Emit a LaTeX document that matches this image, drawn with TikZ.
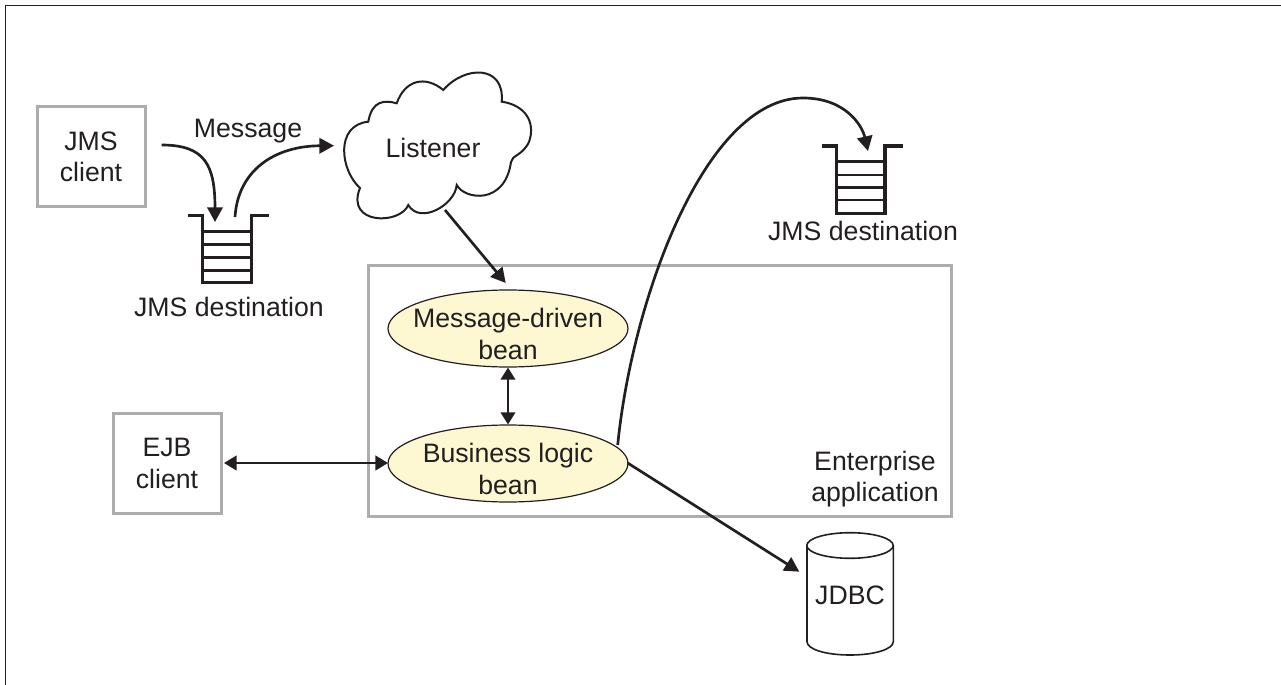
\documentclass[tikz,border=0pt]{standalone}
\usepackage{fontspec}
\setmainfont{Liberation Sans}
\usetikzlibrary{arrows.meta,shapes.geometric}
\definecolor{ink}{HTML}{231F20}
\definecolor{graybox}{HTML}{ABADB0}
\definecolor{beanfill}{HTML}{FDF8D2}
\tikzset{
  x=0.75pt,y=-0.75pt,
  every node/.style={text=ink,font=\fontsize{20}{23.5}\selectfont,align=center,inner sep=0pt},
  graybx/.style={draw=graybox,line width=2.25pt,rectangle,minimum width=81pt,minimum height=75pt},
  bean/.style={ellipse,draw=ink,line width=0.9pt,fill=beanfill,minimum width=180pt,minimum height=57.75pt},
  conn/.style={draw=ink,line width=2pt,-{Triangle[length=11pt,width=11.5pt]}},
  thinboth/.style={draw=ink,line width=1.2pt,{Triangle[length=9pt,width=11pt]}-{Triangle[length=9pt,width=11pt]}},
  boldboth/.style={draw=ink,line width=1.8pt,{Triangle[length=9.5pt,width=11pt]}-{Triangle[length=9.5pt,width=11pt]}},
  qwall/.style={draw=ink,line width=2.4pt,line join=miter},
  qrung/.style={draw=ink,line width=2pt},
  cyl/.style={draw=ink,line width=1.2pt},
}
\begin{document}
\begin{tikzpicture}
\useasboundingbox (0,0) rectangle (1281,685);
\draw[ink,line width=1.3pt] (5.5,690) -- (5.5,5.5) -- (1285,5.5);

% boxes
\node[graybx] (jms) at (91,156.5) {JMS\\client};
\node[graybx] (ejb) at (167,463.5) {EJB\\client};
\draw[graybox,line width=2.25pt] (368,265) rectangle (951,516);
\node (entapp) at (875,479) {Enterprise\\application};

% beans
\node[bean] (mdb) at (508,328.5) {};
\node at (508,334) {Message-driven\\bean};
\node[bean] (blb) at (508,463.5) {};
\node at (508,469) {Business logic\\bean};

% cloud
\draw[ink,line width=1.5pt,fill=white]
  (368.3,121.7) .. controls (372,100) and (385,100) .. (396.7,103.3)
  .. controls (405,80) and (425,75) .. (443.3,90)
  .. controls (465,65) and (505,65) .. (501.7,101.7)
  .. controls (525,105) and (536,122) .. (529,142)
  .. controls (522,156) and (512,155) .. (511,162)
  .. controls (505,205) and (465,200) .. (456.7,185)
  .. controls (455,205) and (420,225) .. (408.3,205)
  .. controls (400,225) and (345,225) .. (360,188)
  .. controls (340,170) and (335,125) .. (368.3,121.7) -- cycle;
\node (listener) at (433,148) {Listener};
\coordinate (cloudbase) at (445,210);
\coordinate (cloudin) at (334,145.7);

% left queue
\coordinate (q1a) at (188.3,215.7);
\coordinate (q1b) at (202.3,215.7);
\coordinate (q1c) at (202.3,282.7);
\coordinate (q1d) at (251.7,282.7);
\coordinate (q1e) at (251.7,215.7);
\coordinate (q1f) at (269.3,215.7);
\draw[qrung] (202.3,231.7) -- (251.7,231.7) (202.3,244.3) -- (251.7,244.3) (202.3,257.3) -- (251.7,257.3) (202.3,270.3) -- (251.7,270.3);
\draw[qwall] (q1a) -- (q1b) -- (q1c) -- (q1d) -- (q1e) -- (q1f);
\node (q1label) at (229,307) {JMS destination};
\coordinate (q1in) at (215,222);
\coordinate (q1out) at (235,217);

% right queue
\coordinate (q2a) at (821.7,146);
\coordinate (q2b) at (836.7,146);
\coordinate (q2c) at (836.7,213.3);
\coordinate (q2d) at (885,213.3);
\coordinate (q2e) at (885,146);
\coordinate (q2f) at (903.3,146);
\draw[qrung] (836.7,161.7) -- (885,161.7) (836.7,175) -- (885,175) (836.7,187.3) -- (885,187.3) (836.7,200) -- (885,200);
\draw[qwall] (q2a) -- (q2b) -- (q2c) -- (q2d) -- (q2e) -- (q2f);
\node (q2label) at (863,231) {JMS destination};
\coordinate (q2in) at (868,151);

% database
\draw[cyl,fill=white] (807,545.5) -- (807,641.7) .. controls (807,649) and (825,655) .. (850,655) .. controls (875,655) and (893.3,649) .. (893.3,641.7) -- (893.3,545.5);
\draw[cyl] (850,545.5) ellipse [x radius=43.2,y radius=12.8];
\node (jdbc) at (850,595) {JDBC};
\coordinate (jdbcin) at (799.3,571.7);

% connectors
\coordinate (jmsout) at (161.7,145);
\coordinate (mdbin) at (505.7,283);
\coordinate (blbtop) at (617.7,445);
\coordinate (blbright) at (627.7,463);
\coordinate (ejbout) at (224,463);
\coordinate (blbin) at (388,463);
\node (msg) at (248,131) {Message};
\draw[conn] (jmsout) .. controls (205,145) and (215,165) .. (q1in);
\draw[conn] (q1out) .. controls (238,170) and (275,146) .. (cloudin);
\draw[conn] (cloudbase) -- (mdbin);
\draw[thinboth] (mdb.south) -- (blb.north);
\draw[boldboth] (ejbout) -- (blbin);
\draw[conn] (blbtop) .. controls (632,300) and (705,98) .. (803,98) .. controls (845,98) and (862,125) .. (q2in);
\draw[conn] (blbright) -- (jdbcin);
\end{tikzpicture}
\end{document}
